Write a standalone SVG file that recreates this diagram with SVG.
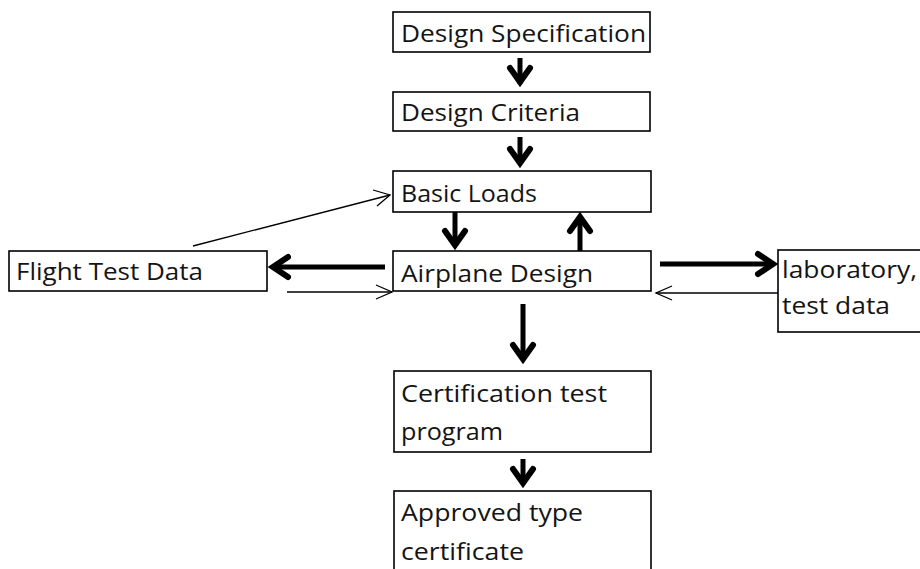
<svg xmlns="http://www.w3.org/2000/svg" width="920" height="569" viewBox="0 0 920 569">
  <style>
    .box { fill: #ffffff; stroke: #000000; stroke-width: 1.6; }
    .lbl { font-family: "Open Sans", "Liberation Sans", sans-serif; font-size: 23.5px; fill: #141414; }
    .shaft { stroke: #000000; stroke-width: 5; fill: none; }
    .head { stroke: #000000; stroke-width: 6; fill: none; stroke-linejoin: miter; stroke-linecap: round; }
    .thin { stroke: #000000; stroke-width: 1.3; fill: none; }
  </style>
  <rect width="920" height="569" fill="#ffffff"/>

  <g id="design-specification">
    <rect class="box" x="393" y="12" width="257" height="40"/>
    <text class="lbl" x="401" y="42" textLength="245" lengthAdjust="spacingAndGlyphs">Design Specification</text>
  </g>
  <g id="design-criteria">
    <rect class="box" x="393" y="92" width="257" height="39"/>
    <text class="lbl" x="401" y="121" textLength="179" lengthAdjust="spacingAndGlyphs">Design Criteria</text>
  </g>
  <g id="basic-loads">
    <rect class="box" x="393" y="171" width="258" height="41"/>
    <text class="lbl" x="401" y="202" textLength="136" lengthAdjust="spacingAndGlyphs">Basic Loads</text>
  </g>
  <g id="airplane-design">
    <rect class="box" x="393" y="251" width="258" height="40"/>
    <text class="lbl" x="401" y="282" textLength="192" lengthAdjust="spacingAndGlyphs">Airplane Design</text>
  </g>
  <g id="flight-test-data">
    <rect class="box" x="9" y="251" width="258" height="40"/>
    <text class="lbl" x="16" y="280" textLength="187" lengthAdjust="spacingAndGlyphs">Flight Test Data</text>
  </g>
  <g id="laboratory-test-data">
    <rect class="box" x="778" y="250" width="150" height="82"/>
    <text class="lbl" x="782" y="278" textLength="135" lengthAdjust="spacingAndGlyphs">laboratory,</text>
    <text class="lbl" x="782" y="314" textLength="108" lengthAdjust="spacingAndGlyphs">test data</text>
  </g>
  <g id="certification-test-program">
    <rect class="box" x="394" y="371" width="257" height="81"/>
    <text class="lbl" x="401" y="402" textLength="206" lengthAdjust="spacingAndGlyphs">Certification test</text>
    <text class="lbl" x="401" y="440" textLength="102" lengthAdjust="spacingAndGlyphs">program</text>
  </g>
  <g id="approved-type-certificate">
    <rect class="box" x="394" y="491" width="257" height="90"/>
    <text class="lbl" x="401" y="521" textLength="182" lengthAdjust="spacingAndGlyphs">Approved type</text>
    <text class="lbl" x="401" y="560" textLength="123" lengthAdjust="spacingAndGlyphs">certificate</text>
  </g>

  <g id="connectors">
    <!-- specification to criteria -->
    <line class="shaft" x1="520" y1="58" x2="520" y2="84"/>
    <polyline class="head" points="510,68 520,82 530,68"/>
    <!-- criteria to basic loads -->
    <line class="shaft" x1="520" y1="137" x2="520" y2="164"/>
    <polyline class="head" points="510,149 520,163 530,149"/>
    <!-- basic loads to airplane design -->
    <line class="shaft" x1="455" y1="212" x2="455" y2="246"/>
    <polyline class="head" points="445,231 455,245 465,231"/>
    <!-- airplane design back to basic loads -->
    <line class="shaft" x1="580" y1="251" x2="580" y2="217"/>
    <polyline class="head" points="570,231 580,217 590,231"/>
    <!-- airplane design to flight test data -->
    <line class="shaft" x1="385" y1="267" x2="273" y2="267"/>
    <polyline class="head" points="288,257 273,267 288,277"/>
    <!-- airplane design to laboratory -->
    <line class="shaft" x1="660" y1="264" x2="772" y2="264"/>
    <polyline class="head" points="758,254 773,264 758,274"/>
    <!-- airplane design to certification -->
    <line class="shaft" x1="523" y1="304" x2="523" y2="360"/>
    <polyline class="head" points="513,345 523,359 533,345"/>
    <!-- certification to approved certificate -->
    <line class="shaft" x1="523" y1="459" x2="523" y2="484"/>
    <polyline class="head" points="513,469 523,483 533,469"/>

    <!-- thin feedback arrows -->
    <line class="thin" x1="193" y1="246" x2="390" y2="195"/>
    <polyline class="thin" points="373,190 390,195 377,206"/>
    <line class="thin" x1="287" y1="292" x2="392" y2="292"/>
    <polyline class="thin" points="376,285 392,292 376,299"/>
    <line class="thin" x1="778" y1="293" x2="656" y2="293"/>
    <polyline class="thin" points="672,286 656,293 672,300"/>
  </g>
</svg>
